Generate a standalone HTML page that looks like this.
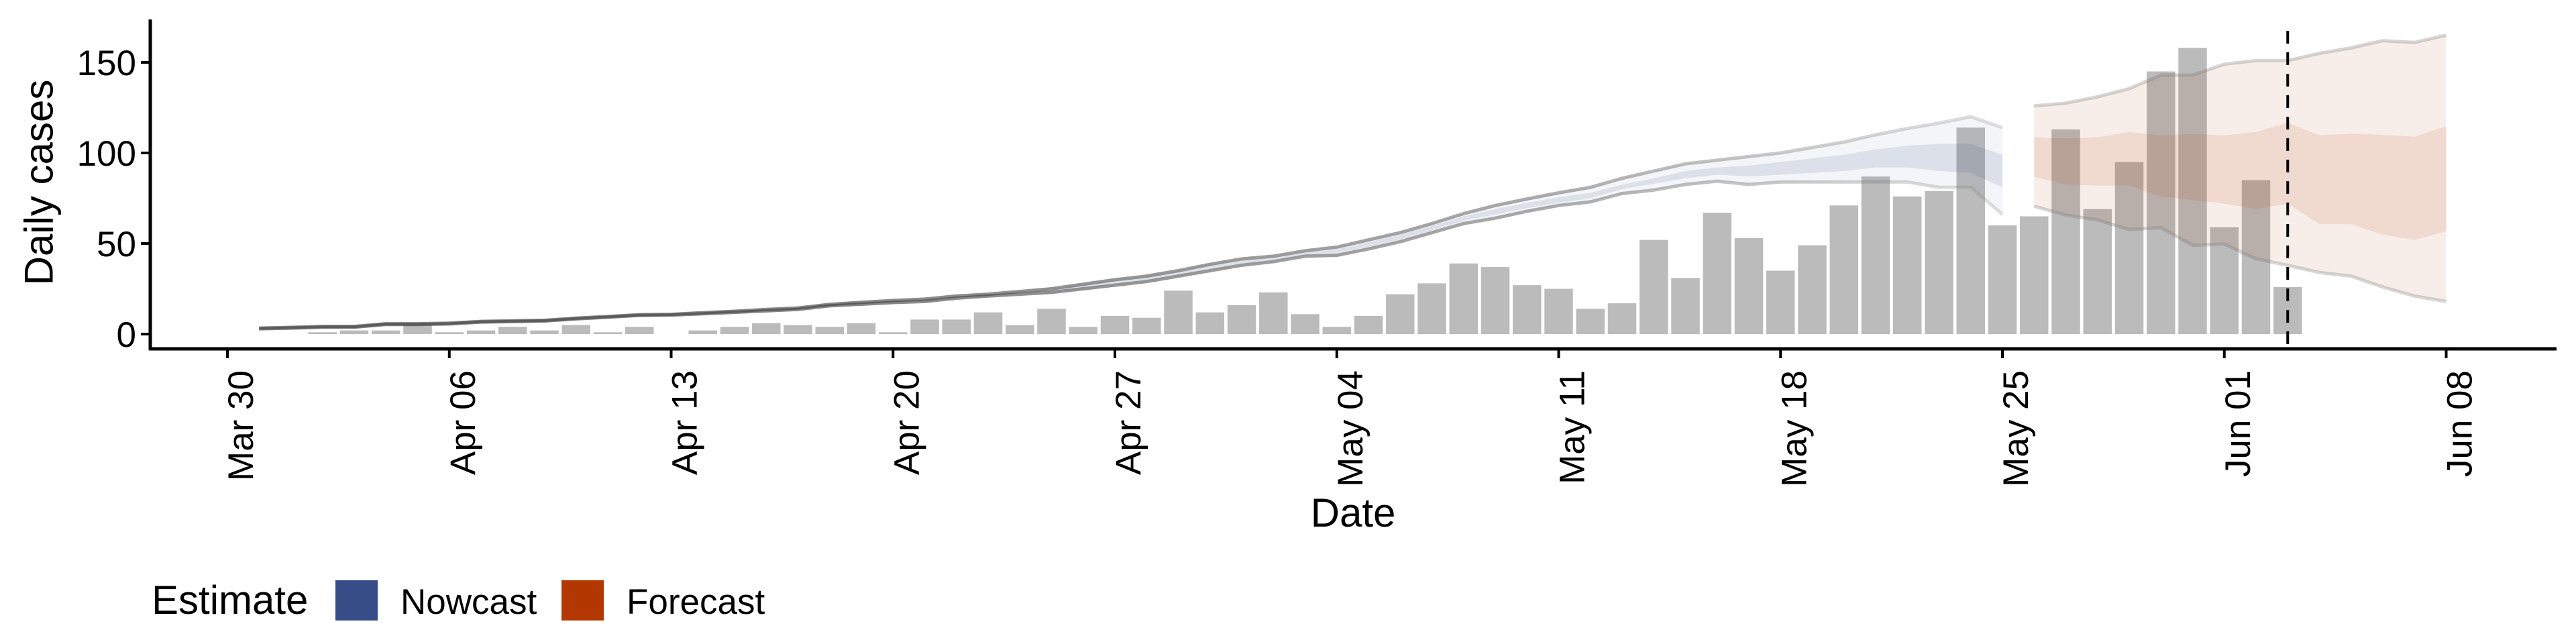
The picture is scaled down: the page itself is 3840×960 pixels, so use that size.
<!DOCTYPE html>
<html><head><meta charset="utf-8"><style>
html,body{margin:0;padding:0;background:#fff;}
svg{display:block;font-family:"Liberation Sans",Arial,sans-serif;}
</style></head><body>
<svg id="chart" width="3840" height="960" viewBox="0 0 3840 960" xmlns="http://www.w3.org/2000/svg">
<defs>
<linearGradient id="nowLineGrad" gradientUnits="userSpaceOnUse" x1="1300" y1="0" x2="2990" y2="0">
<stop offset="0" stop-color="#464646" stop-opacity="0.65"/>
<stop offset="0.6" stop-color="#5a5a5a" stop-opacity="0.5"/>
<stop offset="1" stop-color="#888" stop-opacity="0.25"/>
</linearGradient>
</defs>
<rect width="3840" height="960" fill="#fff"/>
<g id="marks"></g>
<g id="axes"></g>
<text x="58" y="272" transform="rotate(-90 58 272)" text-anchor="middle" dominant-baseline="central" font-size="60">Daily cases</text>
<text x="2017" y="785" text-anchor="middle" font-size="60">Date</text>
<g>
<text x="226" y="915" font-size="60">Estimate</text>
<rect x="500" y="865" width="63" height="60" fill="#364d87"/>
<text x="597" y="915" font-size="53">Nowcast</text>
<rect x="837" y="865" width="63" height="60" fill="#b33700"/>
<text x="934" y="915" font-size="53">Forecast</text>
</g>
</svg>
<script>
// Data: days are offsets from Mar 30
const barDays = [3,4,5,6,7,8,9,10,11,12,13,14,15,16,17,18,19,20,21,22,23,24,25,26,27,28,29,30,31,32,33,34,35,36,37,38,39,40,41,42,43,44,45,46,47,48,49,50,51,52,53,54,55,56,57,58,59,60,61,62,63,64,65];
const barValues = [1,2,2,5,1,2,4,2,5,1,4,0,2,4,6,5,4,6,1,8,8,12,5,14,4,10,9,24,12,16,23,11,4,10,22,28,39,37,27,25,14,17,52,31,67,53,35,49,71,87,76,79,114,60,65,113,69,95,145,158,59,85,26];
const nowDays = [1,2,3,4,5,6,7,8,9,10,11,12,13,14,15,16,17,18,19,20,21,22,23,24,25,26,27,28,29,30,31,32,33,34,35,36,37,38,39,40,41,42,43,44,45,46,47,48,49,50,51,52,53,54,55,56];
const nowUpper = [3.3,3.7,4.2,4.2,5.7,5.7,6,7,7.3,7.6,8.8,9.7,10.7,10.9,11.8,12.6,13.6,14.4,16.4,17.5,18.5,19.3,21,22,23.5,25,27.5,30,32,35,38.5,41.5,43,46,48,52,56,61,66.5,71,74.6,78,81,86,90,94,96,98,100,103,106,110,113.5,116.5,120,114];
const nowLower = [2.9,3.3,3.8,3.8,5.3,5.3,5.6,6.6,6.9,7.2,8.4,9.3,10.3,10.5,11.2,12,12.8,13.6,15.6,16.5,17.4,18,19.8,21,22,23,25,27,29,32,35,38,40,43,43.5,47,51,56,61,64,67.8,71,73,77.6,79.5,82.6,84.4,82.6,84,84,84,84,84,81,81,66];
const nowInnerUpper = [3.2,3.6,4.1,4.1,5.6,5.6,5.9,6.9,7.2,7.5,8.7,9.6,10.6,10.8,11.6,12.4,13.4,14.2,16.2,17.2,18.2,19,20.7,21.8,23,24.4,26.8,29.2,31.2,34.2,37.5,40.5,42.2,45.2,46.8,50.8,54.8,59.8,65,69,72.5,75.5,78,82.5,86,90,92,93,95,97,99,102,104,105,105,99];
const nowInnerLower = [3,3.4,3.9,3.9,5.4,5.4,5.7,6.7,7,7.3,8.5,9.4,10.4,10.6,11.4,12.2,13,13.8,15.8,16.8,17.7,18.3,20.1,21.2,22.5,23.6,25.7,27.8,29.8,32.8,36,39,41,43.8,44.7,48.2,52.2,57.2,62.5,66,69.5,72.5,75,80,83,86,88,87,88,89,90,92,92,90,89,81];
const fcDays = [57,58,59,60,61,62,63,64,65,66,67,68,69,70];
const fcUpper = [126,127.5,131,135.5,143,143,149,151,151,155,158,162,161,165];
const fcLower = [70.6,65.7,63,57.7,58.7,49,49.7,41.5,38,34,32,26,21,18];
const fcInnerUpper = [108.7,108,108.7,111.6,109.7,110.6,109.7,111.6,116.7,109.7,110.6,110,109,114.7];
const fcInnerLower = [86.8,82.5,82,82,76,74,72,69,72,60.7,60.7,54.8,52,56.7];
const xTickDays = [0,7,14,21,28,35,42,49,56,63,70];
const xTickLabels = ["Mar 30","Apr 06","Apr 13","Apr 20","Apr 27","May 04","May 11","May 18","May 25","Jun 01","Jun 08"];
const yTicks = [0,50,100,150];
const dataCutoffDay = 65;

const NS = "http://www.w3.org/2000/svg";
const X0 = 339, PXDAY = 47.25, Y0 = 498, PXUNIT = 2.7;
const xS = d => X0 + d * PXDAY;
const yS = v => Y0 - v * PXUNIT;
const marks = document.getElementById('marks');
const axes = document.getElementById('axes');
function mk(tag, attrs, parent) {
  const e = document.createElementNS(NS, tag);
  for (const k in attrs) e.setAttribute(k, attrs[k]);
  parent.appendChild(e);
  return e;
}
barDays.forEach((d, i) => {
  const v = barValues[i];
  const r = mk('rect', {x: xS(d) - 21.25, y: yS(v), width: 42.5, height: Math.max(0, v * PXUNIT), fill: '#bbbbbb'}, marks);
  
  
});
function band(days, up, lo, fill, name) {
  let p = days.map((d, i) => xS(d) + ',' + yS(up[i])).join(' ');
  p += ' ' + days.slice().reverse().map((d, j) => xS(d) + ',' + yS(lo[days.length - 1 - j])).join(' ');
  const e = mk('polygon', {points: p, fill: fill}, marks);
  
  
}
function line(days, vals, stroke, name) {
  const e = mk('polyline', {points: days.map((d, i) => xS(d) + ',' + yS(vals[i])).join(' '), fill: 'none', stroke: stroke, 'stroke-width': 5, 'stroke-linejoin': 'round'}, marks);
  
  
}
band(nowDays, nowUpper, nowLower, 'rgba(54,77,135,0.06)', 'nowcast-outer-band');
band(nowDays, nowInnerUpper, nowInnerLower, 'rgba(54,77,135,0.12)', 'nowcast-inner-band');
band(fcDays, fcUpper, fcLower, 'rgba(179,55,0,0.085)', 'forecast-outer-band');
band(fcDays, fcInnerUpper, fcInnerLower, 'rgba(179,55,0,0.11)', 'forecast-inner-band');
line(nowDays, nowUpper, 'url(#nowLineGrad)', 'nowcast-upper-line');
line(nowDays, nowLower, 'url(#nowLineGrad)', 'nowcast-lower-line');
line(fcDays, fcUpper, 'rgba(120,120,120,0.3)', 'forecast-upper-line');
line(fcDays, fcLower, 'rgba(120,120,120,0.3)', 'forecast-lower-line');
const cut = mk('line', {x1: xS(dataCutoffDay), x2: xS(dataCutoffDay), y1: 46, y2: 520, stroke: '#000', 'stroke-width': 4, 'stroke-dasharray': '19,13'}, marks);


const ya = mk('line', {x1: 224, x2: 224, y1: 29, y2: 522, stroke: '#000', 'stroke-width': 5}, axes);


const xa = mk('line', {x1: 222, x2: 3811, y1: 520, y2: 520, stroke: '#000', 'stroke-width': 5}, axes);


yTicks.forEach(v => {
  const t = mk('line', {x1: 210, x2: 224, y1: yS(v), y2: yS(v), stroke: '#000', 'stroke-width': 4}, axes);
  
  
  const l = mk('text', {x: 203, y: yS(v) + 19, 'text-anchor': 'end', 'font-size': 53}, axes);
  l.textContent = v;
  
  
});
xTickDays.forEach((d, i) => {
  const x = xS(d);
  const t = mk('line', {x1: x, x2: x, y1: 520, y2: 534, stroke: '#000', 'stroke-width': 4}, axes);
  
  
  const lx = x + 38, ly = 552;
  const l = mk('text', {x: lx, y: ly, 'text-anchor': 'end', 'font-size': 53, transform: 'rotate(-90 ' + lx + ' ' + ly + ')'}, axes);
  l.textContent = xTickLabels[i];
  
  
});
</script>
</body></html>
